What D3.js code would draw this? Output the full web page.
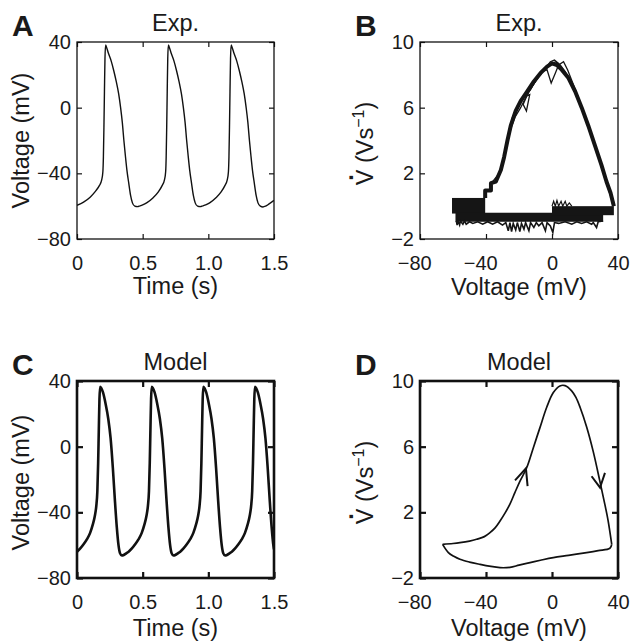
<!DOCTYPE html>
<html><head><meta charset="utf-8">
<script src="https://cdn.jsdelivr.net/npm/d3@7"></script>
<style>
body{margin:0;background:#fff}
svg{display:block}
text{font-family:"Liberation Sans",Arial,Helvetica,sans-serif;fill:#1a1a1a}
</style>
</head><body>
<svg id="c" width="633" height="641"></svg>
<script>
// ---------- tick values / labels ----------
const timeTicks = [0, 0.5, 1.0, 1.5];
const timeTickLabels = ["0", "0.5", "1.0", "1.5"];
const voltageTicks = [-80, -40, 0, 40];
const voltageTickLabels = ["−80", "−40", "0", "40"];
const dvdtTicks = [-2, 2, 6, 10];
const dvdtTickLabels = ["−2", "2", "6", "10"];

// ---------- Panel A: experimental voltage trace ----------
const expTime = [0,0.05,0.1,0.14,0.17,0.188,0.197,0.201,0.205,0.209,0.213,0.218,0.224,0.24,0.26,0.28,0.3,0.317,0.332,0.345,0.357,0.368,0.38,0.394,0.408,0.422,0.44,0.46,0.48,
 0.5,0.53,0.578,0.618,0.648,0.666,0.675,0.679,0.683,0.687,0.691,0.696,0.702,0.718,0.738,0.758,0.778,0.795,0.81,0.823,0.835,0.846,0.858,0.872,0.886,0.9,0.918,0.938,0.958,
 0.98,1.01,1.056,1.096,1.126,1.144,1.153,1.157,1.161,1.165,1.169,1.174,1.18,1.196,1.216,1.236,1.256,1.273,1.288,1.301,1.313,1.324,1.336,1.35,1.364,1.378,1.396,1.416,1.436,1.46,1.5];
const expVoltage = [-59.5,-57.5,-54.5,-51,-47.5,-44,-39,-30,-12,10,30,38.2,37,33,28.5,22.5,15.5,8.5,0,-9,-20,-29,-38,-46,-53.5,-58,-60,-60.3,-59.8,
 -59.2,-58,-55,-51.5,-47.5,-44,-39,-30,-12,10,30,38.2,37,33,28.5,22.5,15.5,8.5,0,-9,-20,-29,-38,-46,-53.5,-58,-60,-60.3,-59.8,
 -59.2,-58,-55,-51.5,-47.5,-44,-39,-30,-12,10,30,38.2,37,33,28.5,22.5,15.5,8.5,0,-9,-20,-29,-38,-46,-53.5,-58,-60,-60.5,-60,-58.8,-56.5];

// ---------- Panel C: model voltage trace ----------
const modelTime = [0,0.025,0.05,0.075,0.1,0.12,0.135,0.147,0.155,0.161,0.166,0.171,0.176,0.184,0.198,0.218,0.238,0.256,0.273,0.288,0.303,0.316,0.328,0.341,0.356,0.375,
 0.393,0.418,0.443,0.468,0.493,0.513,0.528,0.54,0.548,0.554,0.559,0.564,0.569,0.577,0.591,0.611,0.631,0.649,0.666,0.681,0.696,0.709,0.721,0.734,0.749,0.768,
 0.786,0.811,0.836,0.861,0.886,0.906,0.921,0.933,0.941,0.947,0.952,0.957,0.962,0.97,0.984,1.004,1.024,1.042,1.059,1.074,1.089,1.102,1.114,1.127,1.142,1.161,
 1.179,1.204,1.229,1.254,1.279,1.299,1.314,1.326,1.334,1.34,1.345,1.35,1.355,1.363,1.377,1.397,1.417,1.435,1.452,1.467,1.482,1.495,1.5];
const modelVoltage = [-64,-62,-59.5,-56.5,-52.5,-47.5,-42.5,-36,-27,-10,10,29,36.5,35.8,33,26,17,5,-13,-32,-49,-60,-65,-66.3,-66,-65,
 -64,-62,-59.5,-56.5,-52.5,-47.5,-42.5,-36,-27,-10,10,29,36.5,35.8,33,26,17,5,-13,-32,-49,-60,-65,-66.3,-66,-65,
 -64,-62,-59.5,-56.5,-52.5,-47.5,-42.5,-36,-27,-10,10,29,36.5,35.8,33,26,17,5,-13,-32,-49,-60,-65,-66.3,-66,-65,
 -64,-62,-59.5,-56.5,-52.5,-47.5,-42.5,-36,-27,-10,10,29,36.5,35.8,33,26,17,5,-13,-32,-49,-60,-62.5];

// ---------- Panel B: experimental phase plot (V, dV/dt) ----------
const expArcMainV = [-40.5,-40.5,-37,-37,-34,-31,-29,-27,-25,-22,-19,-15,-11,-7,-3,0,3,6,10,14,18,22,26,30,33,35.5,37.5];
const expArcMainD = [0.5,0.95,0.95,1.4,1.5,2.2,3.0,4.0,4.9,5.8,6.4,7.0,7.6,8.1,8.5,8.7,8.6,8.3,7.8,7.0,6.0,4.9,3.7,2.5,1.5,0.8,0.0];
const expArc2V = [-36,-32,-29.5,-27,-24,-21,-17,-13,-9,-5,-1,2,5,8,12,16,20,24,28,32,35,37.5];
const expArc2D = [1.5,2.0,2.9,4.1,5.4,6.1,6.7,7.1,7.8,8.3,8.6,8.8,8.6,8.2,7.5,6.6,5.5,4.3,3.1,1.9,1.0,0.2];
const expArc3V = [-30,-27,-24.5,-21,-18,-13.5,-15.5,-17.5,-14,-10,-6,-3,-0.5,2,4,7,9.5,13,17,21,25,29,33,36,37.5];
const expArc3D = [2.6,4.0,5.0,5.9,6.6,6.8,5.8,6.2,7.0,7.6,8.2,8.3,7.5,8.1,8.6,8.8,8.3,7.4,6.3,5.1,3.9,2.7,1.4,0.5,0.0];
const expArc4V = [-28,-25,-22.5,-19,-16,-12,-8,-4,-1,1.5,4,7,11,15,19,23,27,31,34,37];
const expArc4D = [3.5,4.7,5.4,6.0,6.6,7.3,7.9,8.4,8.8,8.9,8.7,8.2,7.6,6.8,5.8,4.6,3.4,2.2,1.2,0.4];
// dense noisy baseline bands: [V from, V to, dV/dt low, dV/dt high]
const bandVFrom = [-60.6, -58.5, 0.0];
const bandVTo   = [-40.5, 31.0, 37.5];
const bandDLow  = [-0.45, -0.95, -0.55];
const bandDHigh = [0.5, -0.4, 0.0];
// noisy fringe below the baseline band
const expNoiseV = [-58,-57.5,-57,-56,-55.5,-54,-53,-52,-50,-48,-45,-42,-39,-36,-33,-30,-28,-26.5,-25.5,-24.5,-23.5,-22,-21,-19.5,-18.5,-17,-16,-14,-13,-11,-9.5,-8,-6,-4,-3,-1,0.5,1.5,4,8,12,15,18,21,24,25,27,28,31];
const expNoiseD = [-0.9,-1.15,-0.9,-1.15,-0.9,-1.1,-0.9,-1.1,-0.95,-1.05,-0.95,-1.1,-0.95,-1.1,-0.95,-1.15,-1.0,-1.5,-1.0,-1.55,-1.05,-1.45,-1.0,-1.55,-1.05,-1.4,-1.0,-1.5,-1.0,-1.3,-1.0,-1.2,-1.0,-1.5,-1.0,-1.2,-1.6,-1.0,-1.05,-0.95,-1.1,-0.95,-1.05,-0.95,-1.1,-1.0,-1.3,-0.95,-0.9];
const expNoiseTopV = [0,1,2,3,4,5.5,6.5,8,9,10.5,12];
const expNoiseTopD = [0.0,0.3,0.0,0.35,0.0,0.3,0.0,0.3,0.0,0.2,0.0];

// ---------- Panel D: model phase plot ----------
const modelUpV = [-66.3,-60,-55.8,-50,-45.7,-41,-37.6,-34.5,-31.5,-28.5,-25.5,-22.5,-19.4,-15.4,-11.3,-7.3,-3.2,0.8,4.8,7.9,11.9,14.5,17,21,25,29,32,34,36.2];
const modelUpD = [0.05,0.1,0.15,0.25,0.36,0.52,0.76,1.05,1.47,1.95,2.5,3.2,3.9,4.7,5.94,7.16,8.4,9.3,9.7,9.72,9.4,9.0,8.4,7.2,5.7,3.9,2.5,1.5,0.05];
const modelDownV = [36.2,35.1,28,21,10,0.8,-7,-13.3,-20,-25.5,-31.5,-38,-43.6,-50,-55.8,-59.5,-62.8,-66.3];
const modelDownD = [0.05,-0.19,-0.33,-0.45,-0.62,-0.76,-0.92,-1.06,-1.22,-1.35,-1.37,-1.28,-1.17,-1.03,-0.86,-0.68,-0.45,0.05];
const arrowUpV = [-22.4,-15.8,-14.8];
const arrowUpD = [3.95,4.68,3.6];
const arrowDownV = [24,29.1,32.1];
const arrowDownD = [4.2,3.5,4.4];

// ---------- drawing ----------
const svg = d3.select('#c');

function panel(p){
  const x = d3.scaleLinear().domain(p.xDomain).range([p.left, p.right]);
  const y = d3.scaleLinear().domain(p.yDomain).range([p.bottom, p.top]);
  const g = svg.append('g');
  const cid = 'clip' + p.letter;
  svg.append('clipPath').attr('id', cid).append('rect')
    .attr('x', p.left).attr('y', p.top).attr('width', p.right - p.left).attr('height', p.bottom - p.top);
  const plot = g.append('g').attr('clip-path', `url(#${cid})`);
  p.draw(plot, x, y);

  const style = sel => {
    sel.select('.domain').remove();
    sel.selectAll('.tick line').attr('stroke', '#111').attr('stroke-width', p.tickW);
    sel.attr('font-size', null).attr('font-family', null);
    sel.selectAll('.tick text').attr('font-size', p.tickFont);
  };
  const bx = g.append('g').attr('transform', `translate(0,${p.bottom})`)
    .call(d3.axisBottom(x).tickValues(p.xTicks).tickFormat((d,i)=>p.xLabels[i]).tickSize(-p.tickLen).tickPadding(p.xPad)).call(style);
  bx.selectAll('.tick text').each(function(d,i){
    const s = p.xLabels[i];
    if (s.startsWith('−')) {
      const t = d3.select(this);
      t.text(s.slice(1));
      const w = this.getComputedTextLength();
      d3.select(this.parentNode).append('text')
        .attr('y', t.attr('y')).attr('dy', t.attr('dy')).attr('x', -w/2)
        .attr('text-anchor', 'end').attr('font-size', p.tickFont).text('−');
    }
  });
  g.append('g').attr('transform', `translate(0,${p.top})`)
    .call(d3.axisTop(x).tickValues(p.xTicks).tickFormat('').tickSize(-p.tickLen)).call(style);
  g.append('g').attr('transform', `translate(${p.left},0)`)
    .call(d3.axisLeft(y).tickValues(p.yTicks).tickFormat((d,i)=>p.yLabels[i]).tickSize(-p.tickLen).tickPadding(p.yPad)).call(style);
  g.append('g').attr('transform', `translate(${p.right},0)`)
    .call(d3.axisRight(y).tickValues(p.yTicks).tickFormat('').tickSize(-p.tickLen)).call(style);

  g.append('rect').attr('x', p.left).attr('y', p.top)
    .attr('width', p.right - p.left).attr('height', p.bottom - p.top)
    .attr('fill', 'none').attr('stroke', '#111').attr('stroke-width', p.frameW);

  g.append('text').attr('x', p.left - 65).attr('y', p.top - 6)
    .attr('font-size', 30).attr('font-weight', 'bold').text(p.letter);
  g.append('text').attr('x', (p.left + p.right)/2).attr('y', p.top - 11)
    .attr('text-anchor', 'middle').attr('font-size', p.labelFont).text(p.title);

  g.append('text').attr('x', (p.left + p.right)/2).attr('y', p.bottom + p.xLabelOff)
    .attr('text-anchor', 'middle').attr('font-size', p.labelFont).text(p.xLabel);

  const cy = (p.top + p.bottom)/2 + p.yLabelDy;
  const yl = g.append('g').attr('transform', `translate(${p.left - p.yLabelOff},${cy}) rotate(-90)`);
  if (p.yLabel === 'dvdt') {
    const t = yl.append('text').attr('font-size', p.labelFont);
    t.append('tspan').text('V (Vs');
    t.append('tspan').attr('font-size', p.labelFont*0.68).attr('dy', -9).text('−1');
    t.append('tspan').attr('dy', 9).text(')');
    const w = t.node().getComputedTextLength();
    t.attr('x', -w/2);
    const vw = t.node().getSubStringLength(0, 1);
    yl.append('text').attr('x', -w/2 + vw/2).attr('y', -20).attr('text-anchor', 'middle')
      .attr('font-size', p.labelFont).attr('font-weight', 'bold').text('.');
  } else {
    yl.append('text').attr('text-anchor', 'middle').attr('font-size', p.labelFont).text(p.yLabel);
  }
}

const common = {tickLen:5, tickFont:20, labelFont:23.5, xPad:17, yPad:6};

panel(Object.assign({}, common, {
  letter:'A', title:'Exp.', left:77, right:274, top:42, bottom:239,
  xDomain:[0,1.5], yDomain:[-80,40], xTicks:timeTicks, xLabels:timeTickLabels,
  yTicks:voltageTicks, yLabels:voltageTickLabels, frameW:1.3, tickW:1.2,
  xLabel:'Time (s)', xLabelOff:55, yLabel:'Voltage (mV)', yLabelOff:48, yLabelDy:0,
  draw:(g,x,y)=>{
    const line = d3.line().x(d=>x(d[0])).y(d=>y(d[1])).curve(d3.curveMonotoneX);
    g.append('path').attr('d', line(d3.zip(expTime, expVoltage)))
      .attr('fill','none').attr('stroke','#111').attr('stroke-width',1.4);
  }
}));

panel(Object.assign({}, common, {
  letter:'B', title:'Exp.', left:420, right:618, top:42, bottom:239,
  xDomain:[-80,40], yDomain:[-2,10], xTicks:voltageTicks, xLabels:voltageTickLabels,
  yTicks:dvdtTicks, yLabels:dvdtTickLabels, frameW:1.3, tickW:1.2,
  xLabel:'Voltage (mV)', xLabelOff:56, yLabel:'dvdt', yLabelOff:47, yLabelDy:3,
  draw:(g,x,y)=>{
    const line = d3.line().x(d=>x(d[0])).y(d=>y(d[1]));
    const bands = d3.zip(bandVFrom, bandVTo, bandDLow, bandDHigh);
    g.selectAll('rect.band').data(bands).join('rect').attr('class','band')
      .attr('x', d=>x(d[0])).attr('width', d=>x(d[1])-x(d[0]))
      .attr('y', d=>y(d[3])).attr('height', d=>y(d[2])-y(d[3])).attr('fill','#151515');
    g.append('path').attr('d', line(d3.zip(expNoiseV, expNoiseD)))
      .attr('fill','none').attr('stroke','#151515').attr('stroke-width',1.6);
    g.append('path').attr('d', line(d3.zip(expNoiseTopV, expNoiseTopD)))
      .attr('fill','none').attr('stroke','#151515').attr('stroke-width',1.2);
    g.append('path').attr('d', line(d3.zip(expArcMainV, expArcMainD)))
      .attr('fill','none').attr('stroke','#151515').attr('stroke-width',4).attr('stroke-linejoin','round');
    [[expArc2V,expArc2D],[expArc3V,expArc3D],[expArc4V,expArc4D]].forEach(([v,dd])=>{
      g.append('path').attr('d', line(d3.zip(v, dd)))
        .attr('fill','none').attr('stroke','#151515').attr('stroke-width',1.3);
    });
  }
}));

panel(Object.assign({}, common, {
  letter:'C', title:'Model', left:77, right:274, top:381, bottom:578,
  xDomain:[0,1.5], yDomain:[-80,40], xTicks:timeTicks, xLabels:timeTickLabels,
  yTicks:voltageTicks, yLabels:voltageTickLabels, frameW:2.6, tickW:2.2, tickLen:6,
  xLabel:'Time (s)', xLabelOff:58, yLabel:'Voltage (mV)', yLabelOff:48, yLabelDy:3,
  draw:(g,x,y)=>{
    const line = d3.line().x(d=>x(d[0])).y(d=>y(d[1])).curve(d3.curveMonotoneX);
    g.append('path').attr('d', line(d3.zip(modelTime, modelVoltage)))
      .attr('fill','none').attr('stroke','#111').attr('stroke-width',2.6);
  }
}));

panel(Object.assign({}, common, {
  letter:'D', title:'Model', left:420, right:618, top:381, bottom:578,
  xDomain:[-80,40], yDomain:[-2,10], xTicks:voltageTicks, xLabels:voltageTickLabels,
  yTicks:dvdtTicks, yLabels:dvdtTickLabels, frameW:2.6, tickW:2.2, tickLen:6,
  xLabel:'Voltage (mV)', xLabelOff:58, yLabel:'dvdt', yLabelOff:47, yLabelDy:3,
  draw:(g,x,y)=>{
    const curve = d3.line().x(d=>x(d[0])).y(d=>y(d[1])).curve(d3.curveCatmullRom.alpha(0.5));
    const lin = d3.line().x(d=>x(d[0])).y(d=>y(d[1]));
    g.append('path').attr('d', curve(d3.zip(modelUpV, modelUpD)))
      .attr('fill','none').attr('stroke','#111').attr('stroke-width',1.7);
    g.append('path').attr('d', curve(d3.zip(modelDownV, modelDownD)))
      .attr('fill','none').attr('stroke','#111').attr('stroke-width',1.7);
    [[arrowUpV,arrowUpD],[arrowDownV,arrowDownD]].forEach(([v,dd])=>{
      g.append('path').attr('d', lin(d3.zip(v, dd)))
        .attr('fill','none').attr('stroke','#111').attr('stroke-width',2).attr('stroke-linejoin','miter');
    });
  }
}));
</script>
</body></html>
